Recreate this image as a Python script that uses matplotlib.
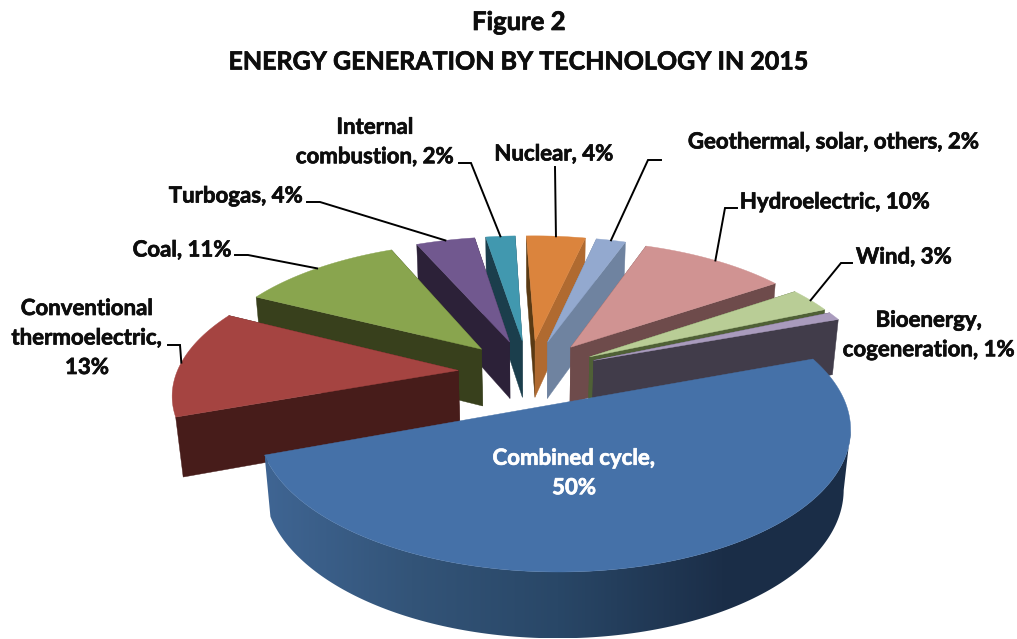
import numpy as np
import matplotlib
matplotlib.use("Agg")
import matplotlib.pyplot as plt
import matplotlib.patheffects as pe
from matplotlib.colors import LinearSegmentedColormap
from matplotlib.patches import Polygon

categories = ["Combined cycle", "Conventional\nthermoelectric", "Coal", "Turbogas", "Internal\ncombustion",
              "Nuclear", "Geothermal, solar, others", "Hydroelectric", "Wind", "Bioenergy,\ncogeneration"]
values = [50, 13, 11, 4, 2, 4, 2, 10, 3, 1]

top_colors = ["#4571A8", "#A54441", "#89A54E", "#71588F", "#4198AF", "#DB843D", "#93A9CF", "#D09392", "#B9CD96", "#A99BBD"]
start_face = ["#3A5F8E", "#471C1A", "#38401C", "#2C2138", "#1B3E4C", "#5A3A14", "#6F83A0", "#6E4B4B", "#4F6036", "#413C4A"]
end_face = ["#1A2D47", "#471C1A", "#38401C", "#2C2138", "#1B3E4C", "#B06A30", "#6F83A0", "#6E4B4B", "#4F6036", "#413C4A"]

# perspective camera and pie layout
X0, Y0, FX, FY, DEPTH = 528.8, 372.4, 1811.0, 839.1, 6.434
EXPLODE, START_ANGLE, THICK, THICK_DEPTH = 0.2514, 19.92, 380.0, 0.1327

# label anchors (centre x, centre y) and leader elbows, in pixels
label_pos = [(574, 473), (87, 338), (182, 250), (236, 196), (375, 142), (554, 154), (834, 142), (835, 202), (904, 257), (929, 335)]
leaders = [None, [(168, 345), (180, 345)], [(235, 255), (248, 255)], [(307, 202), (320, 202)], [(459, 163), (471, 163)],
           [(555, 167)], [(661, 160), (648, 160)], [(737, 208), (725, 208)], [(852, 263), (841, 263)], None]

vals = np.array(values, float)
edges = START_ANGLE - np.concatenate([[0], np.cumsum(vals)]) * 3.6
starts, ends = edges[:-1], edges[1:]


def proj(X, Y, Z=0):
    w = DEPTH + Y + THICK_DEPTH * Z
    return X0 + FX * X / w, Y0 - (FY * Y - THICK * Z) / w


def shift(i):
    m = np.radians((starts[i] + ends[i]) / 2)
    return EXPLODE * np.cos(m), EXPLODE * np.sin(m)


def rim(i, ang, Z=0):
    sx, sy = shift(i)
    return proj(sx + np.cos(np.radians(ang)), sy + np.sin(np.radians(ang)), Z)


def apex(i, Z=0):
    return proj(*shift(i), Z)


fig = plt.figure(figsize=(10.17, 6.39), dpi=100)
ax = fig.add_axes([0, 0, 1, 1])

wall_cmap = LinearSegmentedColormap.from_list(
    "wall", [(0, "#3F6593"), (0.25, "#335478"), (0.5, "#294767"), (0.78, "#1B2E48"), (1, "#1A2D47")])

order = sorted(range(len(vals)), key=lambda i: -shift(i)[1] - 0.3 * np.sin(np.radians((starts[i] + ends[i]) / 2)))
for z, i in enumerate(order, start=1):
    th = np.linspace(starts[i], ends[i], max(int(vals[i] * 3.6), 4) + 1)
    xt, yt = rim(i, th)
    xb, yb = rim(i, th, 1)
    ax_, ay_ = apex(i)
    bx_, by_ = apex(i, 1)
    if i == 0:
        kt, kb = np.argmax(xt), np.argmax(xb)
        xs = np.r_[xt[kt:], xb[kb:][::-1]]
        ys = np.r_[yt[kt:], yb[kb:][::-1]]
        im = ax.imshow(np.linspace(0, 1, 256)[None, :], extent=(xs.min(), xs.max(), ys.max(), ys.min()),
                       cmap=wall_cmap, aspect="auto", zorder=z, interpolation="bilinear")
        im.set_clip_path(Polygon(np.c_[xs, ys], closed=True, transform=ax.transData))
    else:
        ax.fill([xt[0], ax_, bx_, xb[0]], [yt[0], ay_, by_, yb[0]], color=start_face[i], lw=.3, zorder=z)
        ax.fill([xt[-1], ax_, bx_, xb[-1]], [yt[-1], ay_, by_, yb[-1]], color=end_face[i], lw=.3, zorder=z)
    ax.fill(list(xt) + [ax_], list(yt) + [ay_], color=top_colors[i], lw=.3, zorder=z)

font = "Lato"


def heavy(color):
    return [pe.withStroke(linewidth=0.5, foreground=color)]


ax.text(519, 22, "Figure 2", ha="center", va="center", fontsize=18.5, fontweight="bold", family=font,
        color="#0d0d0d", zorder=50, path_effects=heavy("#0d0d0d"))
ax.text(518.5, 62, "ENERGY GENERATION BY TECHNOLOGY IN 2015", ha="center", va="center", fontsize=18,
        fontweight="bold", family=font, color="#0d0d0d", zorder=50, path_effects=heavy("#0d0d0d"))

for i, (cat, v) in enumerate(zip(categories, values)):
    label = f"{cat},\n{v}%" if i < 2 else (f"{cat} {v}%" if cat.endswith(",") else f"{cat}, {v}%")
    tc = "white" if i == 0 else "#0d0d0d"
    ax.text(*label_pos[i], label, ha="center", va="center", multialignment="center", fontsize=16, fontweight="bold",
            family=font, linespacing=1.5, color=tc, zorder=50, path_effects=heavy(tc))
    if leaders[i]:
        mid = (starts[i] + ends[i]) / 2
        ex, ey = rim(i, mid)
        pts = leaders[i] + [(ex, ey)]
        ax.plot([q[0] for q in pts], [q[1] for q in pts], color="black", lw=1.4, zorder=40, solid_joinstyle="miter")

ax.set_xlim(0, 1017)
ax.set_ylim(639, 0)
ax.axis("off")
fig.savefig("out.png", dpi=100)
